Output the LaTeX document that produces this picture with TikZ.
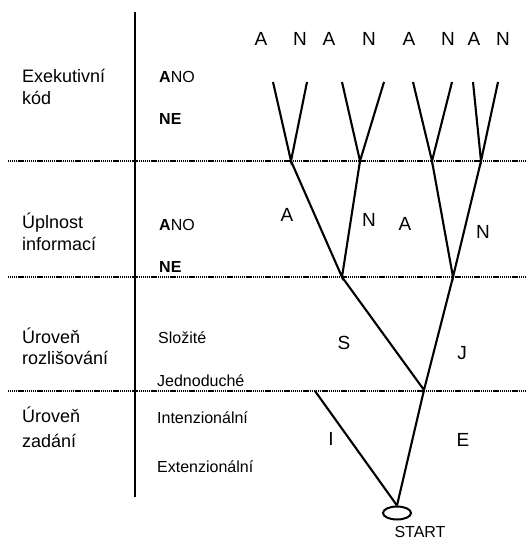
\documentclass[tikz,border=0pt]{standalone}
\usepackage{fontspec}
\setmainfont{Liberation Sans}
\usetikzlibrary{shapes.geometric}
\begin{document}
\begin{tikzpicture}[x=1pt,y=-1pt,
  big/.style={font=\fontsize{18}{21}\selectfont, inner sep=0pt, anchor=base west},
  mid/.style={font=\fontsize{16}{19}\selectfont, inner sep=0pt, anchor=base west},
  lbl/.style={font=\fontsize{19}{22}\selectfont, inner sep=0pt, anchor=base},
  sepline/.style={line width=1.6pt, dash pattern=on 1.2pt off 0.7pt},
  branch/.style={line width=2.1pt},
  axis/.style={line width=2.2pt}]
\useasboundingbox (0,0) rectangle (527,539);
% frame lines
\coordinate (vtop) at (135,12);
\coordinate (vbot) at (135,497);
\draw[axis] (vtop) -- (vbot);
\coordinate (s1l) at (8,161);   \coordinate (s1r) at (527,161);
\coordinate (s2l) at (8,277);   \coordinate (s2r) at (527,277);
\coordinate (s3l) at (8,391);   \coordinate (s3r) at (527,391);
\draw[sepline] (s1l) -- (s1r);
\draw[sepline] (s2l) -- (s2r);
\draw[sepline] (s3l) -- (s3r);
% left labels
\node[big] (c1a) at (22,82) {Exekutivní};
\node[big] (c1b) at (22,104) {kód};
\node[big] (c2a) at (22,228) {Úplnost};
\node[big] (c2b) at (22,250) {informací};
\node[big] (c3a) at (22,343) {Úroveň};
\node[big] (c3b) at (22,364) {rozlišování};
\node[big] (c4a) at (22,422) {Úroveň};
\node[big] (c4b) at (22,447) {zadání};
% middle labels
\node[mid] (v1a) at (159,82) {{\bfseries A}NO};
\node[mid] (v1b) at (159,124) {\bfseries NE};
\node[mid] (v2a) at (159,230) {{\bfseries A}NO};
\node[mid] (v2b) at (159,272) {\bfseries NE};
\node[mid] (v3a) at (158,343) {Složité};
\node[mid] (v3b) at (157,386) {Jednoduché};
\node[mid] (v4a) at (157,423) {Intenzionální};
\node[mid] (v4b) at (157,472) {Extenzionální};
% top letters
\node[lbl] (t1) at (261,45) {A};
\node[lbl] (t2) at (300,45) {N};
\node[lbl] (t3) at (329,45) {A};
\node[lbl] (t4) at (369,45) {N};
\node[lbl] (t5) at (409,45) {A};
\node[lbl] (t6) at (448,45) {N};
\node[lbl] (t7) at (474,45) {A};
\node[lbl] (t8) at (503,45) {N};
% tree points
\coordinate (l1) at (273,82);
\coordinate (l2) at (307,82);
\coordinate (l3) at (342,82);
\coordinate (l4) at (384,82);
\coordinate (l5) at (413,82);
\coordinate (l6) at (452,82);
\coordinate (l7) at (473,82);
\coordinate (l8) at (498,82);
\coordinate (j1) at (291,161);
\coordinate (j2) at (360,161);
\coordinate (j3) at (432,161);
\coordinate (j4) at (481,161);
\coordinate (k1) at (342,277);
\coordinate (k2) at (453,277);
\coordinate (m1) at (424,390);
\coordinate (i1) at (315,391);
\node[draw, ellipse, line width=2pt, minimum width=28pt, minimum height=13pt, inner sep=0pt] (start) at (397,513) {};
\node[font=\fontsize{16}{19}\selectfont, inner sep=0pt, anchor=base] (startlbl) at (420,537) {START};
% branches
\draw[branch] (l1) -- (j1) -- (l2);
\draw[branch] (l3) -- (j2) -- (l4);
\draw[branch] (l5) -- (j3) -- (l6);
\draw[branch] (l7) -- (j4) -- (l8);
\draw[branch] (j1) -- (k1) -- (j2);
\draw[branch] (j3) -- (k2) -- (j4);
\draw[branch] (k1) -- (m1) -- (k2);
\draw[branch] (m1) -- (start.north);
\draw[branch] (i1) -- (start.north);
% branch letters
\node[lbl] (ba1) at (287,221) {A};
\node[lbl] (bn1) at (369,226) {N};
\node[lbl] (ba2) at (405,230) {A};
\node[lbl] (bn2) at (483,238) {N};
\node[lbl] (bs) at (344,349) {S};
\node[lbl] (bj) at (462,359) {J};
\node[lbl] (bi) at (331,445) {I};
\node[lbl] (be) at (463,446) {E};
\end{tikzpicture}
\end{document}
